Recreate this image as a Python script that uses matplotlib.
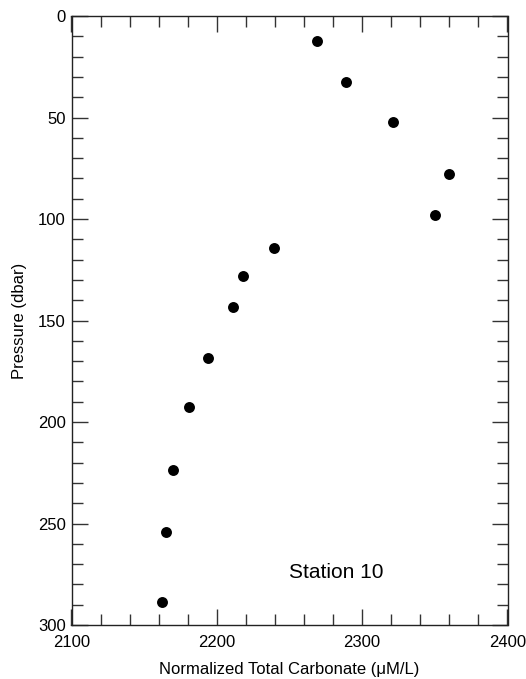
import matplotlib
matplotlib.use("Agg")
import matplotlib.pyplot as plt
from matplotlib.ticker import MultipleLocator

carbonate = [2269, 2289, 2321, 2360, 2350, 2239, 2218, 2211, 2194, 2181, 2170, 2165, 2162]
pressure = [12.3, 32.5, 52.4, 77.7, 98.0, 114.4, 128.2, 143.3, 168.6, 192.8, 223.8, 254.0, 288.5]

plt.rcParams['font.family'] = ['Liberation Sans', 'DejaVu Sans']

fig = plt.figure(figsize=(5.26, 6.79), dpi=100)
ax = fig.add_axes([71.5/526, 1-625/679, 436/526, 609/679])

ax.scatter(carbonate, pressure, s=62, color='black', zorder=3, linewidths=0)

ax.set_xlim(2100, 2400)
ax.set_ylim(300, 0)
ax.xaxis.set_major_locator(MultipleLocator(100))
ax.xaxis.set_minor_locator(MultipleLocator(20))
ax.yaxis.set_major_locator(MultipleLocator(50))
ax.yaxis.set_minor_locator(MultipleLocator(10))
ax.tick_params(which='both', direction='in', top=True, right=True, width=1, color='#333333')
ax.tick_params(which='major', length=11.5, labelsize=12, pad=4)
ax.tick_params(axis='x', which='major', pad=7)
ax.tick_params(which='minor', length=7.7)
for s in ax.spines.values():
    s.set_linewidth(1)
    s.set_color('#222222')

ax.set_xlabel('Normalized Total Carbonate (\u03bcM/L)', fontsize=12, labelpad=9)
ax.set_ylabel('Pressure (dbar)', fontsize=12, labelpad=8)
ax.text(2250, 274, 'Station 10', fontsize=15, ha='left', va='center')

fig.savefig('out.png', dpi=100)
